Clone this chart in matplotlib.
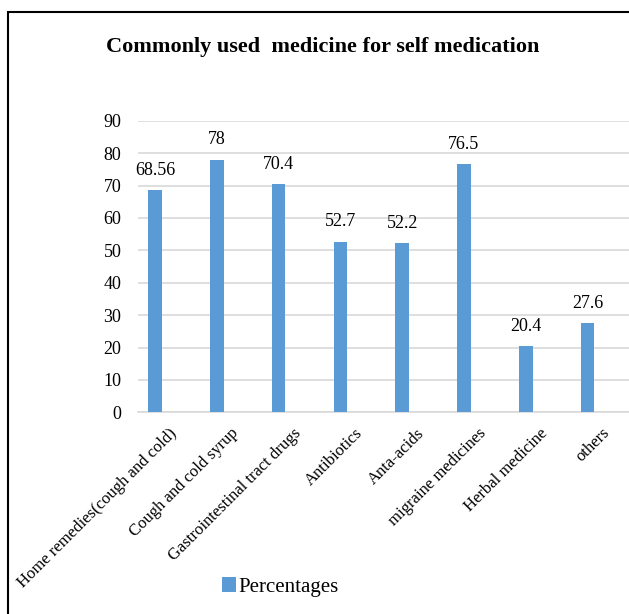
import matplotlib
matplotlib.use("Agg")
import matplotlib.pyplot as plt
import matplotlib.transforms as mtransforms
from matplotlib.patches import Rectangle

categorias = ["Home remedies(cough and cold)", "Cough and cold syrup",
              "Gastrointestinal tract drugs", "Antibiotics", "Anta-acids",
              "migraine medicines", "Herbal medicine", "others"]
valores = [68.56, 78, 70.4, 52.7, 52.2, 76.5, 20.4, 27.6]
rotulos = ["68.56", "78", "70.4", "52.7", "52.2", "76.5", "20.4", "27.6"]
yticks = [0, 10, 20, 30, 40, 50, 60, 70, 80, 90]

plt.rcParams['font.family'] = ['Liberation Serif', 'DejaVu Serif']

fig = plt.figure(figsize=(6.29, 6.14), dpi=100)
ax = fig.add_axes([138 / 629, 1 - 412.3 / 614, 1 - 138 / 629, (412.3 - 120.7) / 614])

x = list(range(len(categorias)))
barras = ax.bar(x, valores, width=0.22, color='#5B9BD5', label='Percentages', zorder=3)

for xi, v, r in zip(x, valores, rotulos):
    ax.annotate(r, (xi, v), xytext=(0, 8), textcoords='offset points',
                ha='center', va='bottom', fontsize=13)

ax.set_ylim(0, 90)
ax.set_xlim(-0.275, 7.67)
ax.set_yticks(yticks)
ax.yaxis.grid(True, color='#D9D9D9', linewidth=1.2, zorder=0)
ax.tick_params(axis='y', length=0, pad=12, labelsize=13)
ax.tick_params(axis='x', length=0, pad=2, labelsize=12)
for s in ['top', 'right', 'left']:
    ax.spines[s].set_visible(False)
ax.spines['bottom'].set_color('#D9D9D9')
ax.spines['bottom'].set_linewidth(1.2)

ax.set_xticks(x)
ax.set_xticklabels(categorias, rotation=45, ha='right', rotation_mode='anchor')
deslocamento = mtransforms.ScaledTranslation(14 / 100, -10 / 100, fig.dpi_scale_trans)
for lbl in ax.get_xticklabels():
    lbl.set_transform(lbl.get_transform() + deslocamento)

fig.text(323 / 629, 1 - 47 / 614, "Commonly used  medicine for self medication",
         ha='center', va='center', fontsize=16, fontweight='bold')

fig.legend(handles=[barras], labels=['Percentages'], loc='center',
           bbox_to_anchor=(280 / 629, 1 - 587 / 614), frameon=False,
           fontsize=15, handlelength=0.7, handleheight=0.7, handletextpad=0.1)

fig.patches.append(Rectangle((8 / 629, -0.1), 1.2, 1.1 - 12 / 614,
                             transform=fig.transFigure, fill=False,
                             edgecolor='black', linewidth=1.5))

fig.savefig("out.png", dpi=100)
